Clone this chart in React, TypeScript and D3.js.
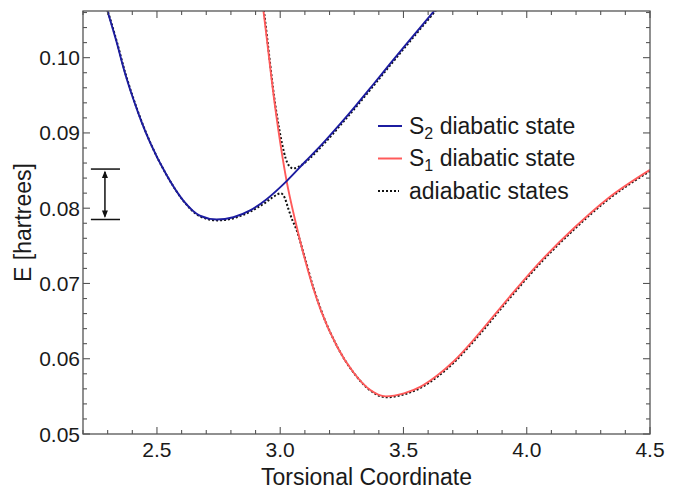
import React, { useEffect, useRef } from 'react';
import * as d3 from 'd3';

// torsional coordinate / energy (hartrees)
const s2Diabatic: [number, number][] = [
    [2.29, 0.1072], [2.336, 0.1021], [2.369, 0.0981], [2.403, 0.0946], [2.437, 0.0915],
    [2.471, 0.0888], [2.539, 0.0844], [2.607, 0.0810], [2.674, 0.0790], [2.742, 0.0785],
    [2.810, 0.0788], [2.878, 0.0797], [2.945, 0.0812], [3.026, 0.0836], [3.102, 0.0862],
    [3.170, 0.0885], [3.238, 0.0910], [3.306, 0.0936], [3.374, 0.0963], [3.441, 0.0990],
    [3.509, 0.1017], [3.583, 0.1046], [3.650, 0.1072]
];

const s1Diabatic: [number, number][] = [
    [2.925, 0.1080], [2.932, 0.1062], [2.980, 0.0933], [3.026, 0.0836], [3.062, 0.0782],
    [3.096, 0.0737], [3.130, 0.0698], [3.163, 0.0666], [3.231, 0.0616], [3.299, 0.0581],
    [3.367, 0.0558], [3.428, 0.0550], [3.502, 0.0554], [3.570, 0.0563], [3.638, 0.0578],
    [3.705, 0.0597], [3.787, 0.0626], [3.922, 0.0679], [4.058, 0.0730], [4.193, 0.0774],
    [4.329, 0.0813], [4.500, 0.0851]
];

// adiabatic states near the avoided crossing
const upperNearCrossing: [number, number][] = [
    [3.005, 0.0887], [3.020, 0.0867], [3.035, 0.0857], [3.050, 0.0854],
    [3.070, 0.0856], [3.095, 0.0861], [3.116, 0.0867]
];
const lowerNearCrossing: [number, number][] = [
    [2.905, 0.0802], [2.935, 0.0808], [2.960, 0.0814], [2.983, 0.0819], [2.999, 0.0821],
    [3.016, 0.0815], [3.030, 0.0801], [3.046, 0.0786], [3.062, 0.0774]
];

const xTickValues = [2.5, 3.0, 3.5, 4.0, 4.5];
const xTickLabels = ['2.5', '3.0', '3.5', '4.0', '4.5'];
const yTickValues = [0.05, 0.06, 0.07, 0.08, 0.09, 0.10];
const yTickLabels = ['0.05', '0.06', '0.07', '0.08', '0.09', '0.10'];

// energy gap marker: levels and position on the coordinate axis
const gapLevels = [0.0852, 0.0785];
const gapSpan = [2.232, 2.35];
const gapArrowAt = 2.289;

const legendItems = [
    { name: 'S', sub: '2', rest: ' diabatic state', color: '#1c1ca0', dash: null },
    { name: 'S', sub: '1', rest: ' diabatic state', color: '#ff5a5a', dash: null },
    { name: 'adiabatic states', sub: '', rest: '', color: '#111111', dash: '2,2' }
];

const width = 685;
const height = 489;
const margin = { top: 11, right: 35, bottom: 55, left: 83 };

function App() {
    const ref = useRef<SVGSVGElement>(null);

    useEffect(() => {
        drawChart();
    });

    function drawChart() {
        const svg = d3.select(ref.current);
        svg.selectAll('*').remove();

        const font = '"Liberation Sans", Arial, sans-serif';
        const axisColor = '#555555';
        const x = d3.scaleLinear().domain([2.2, 4.5]).range([margin.left, width - margin.right]);
        const y = d3.scaleLinear().domain([0.05, 0.1062]).range([height - margin.bottom, margin.top]);
        const [x0, x1] = x.range();
        const [y0, y1] = y.range();

        svg.append('defs')
            .append('clipPath')
            .attr('id', 'plot-clip')
            .append('rect')
            .attr('x', x0)
            .attr('y', y1)
            .attr('width', x1 - x0)
            .attr('height', y0 - y1);

        const line = d3.line<[number, number]>()
            .x(d => x(d[0]))
            .y(d => y(d[1]))
            .curve(d3.curveMonotoneX);

        const upper = [
            ...s1Diabatic.filter(d => d[0] < 2.99),
            ...upperNearCrossing,
            ...s2Diabatic.filter(d => d[0] > 3.15)
        ];
        const lower = [
            ...s2Diabatic.filter(d => d[0] < 2.89),
            ...lowerNearCrossing,
            ...s1Diabatic.filter(d => d[0] > 3.08)
        ];

        const plot = svg.append('g').attr('clip-path', 'url(#plot-clip)');

        // adiabatic (dotted) under the diabatic curves
        [upper, lower].forEach(pts => {
            plot.append('path')
                .attr('d', line(pts))
                .attr('transform', 'translate(0.6,0.9)')
                .attr('fill', 'none')
                .attr('stroke', '#111111')
                .attr('stroke-width', 2)
                .attr('stroke-dasharray', '2,2');
        });

        plot.append('path')
            .attr('d', line(s1Diabatic))
            .attr('fill', 'none')
            .attr('stroke', '#ff5a5a')
            .attr('stroke-width', 1.9);

        plot.append('path')
            .attr('d', line(s2Diabatic))
            .attr('fill', 'none')
            .attr('stroke', '#1c1ca0')
            .attr('stroke-width', 1.9);

        // frame
        svg.append('rect')
            .attr('x', x0)
            .attr('y', y1)
            .attr('width', x1 - x0)
            .attr('height', y0 - y1)
            .attr('fill', 'none')
            .attr('stroke', axisColor)
            .attr('stroke-width', 1.3);

        const ticks = svg.append('g').attr('stroke', axisColor).attr('stroke-width', 1.1);
        const xMinor = d3.range(22, 46).map(v => v / 10);
        const yMinor = d3.range(25, 54).map(v => v / 500);

        xMinor.forEach(v => {
            const len = xTickValues.some(t => Math.abs(t - v) < 1e-6) ? 7 : 4;
            ticks.append('line').attr('x1', x(v)).attr('x2', x(v)).attr('y1', y0).attr('y2', y0 - len);
            ticks.append('line').attr('x1', x(v)).attr('x2', x(v)).attr('y1', y1).attr('y2', y1 + len);
        });
        yMinor.forEach(v => {
            const len = yTickValues.some(t => Math.abs(t - v) < 1e-6) ? 7 : 4;
            ticks.append('line').attr('y1', y(v)).attr('y2', y(v)).attr('x1', x0).attr('x2', x0 + len);
            ticks.append('line').attr('y1', y(v)).attr('y2', y(v)).attr('x1', x1).attr('x2', x1 - len);
        });

        svg.append('g')
            .selectAll('text')
            .data(xTickValues)
            .enter()
            .append('text')
            .attr('x', d => x(d))
            .attr('y', y0 + 23)
            .attr('text-anchor', 'middle')
            .style('font-family', font)
            .style('font-size', '21px')
            .style('fill', '#1a1a1a')
            .text((_, i) => xTickLabels[i]);

        svg.append('g')
            .selectAll('text')
            .data(yTickValues)
            .enter()
            .append('text')
            .attr('x', x0 - 3)
            .attr('y', d => y(d) + 7.5)
            .attr('text-anchor', 'end')
            .style('font-family', font)
            .style('font-size', '21px')
            .style('fill', '#1a1a1a')
            .text((_, i) => yTickLabels[i]);

        // axis titles
        svg.append('text')
            .attr('x', (x0 + x1) / 2)
            .attr('y', 485)
            .attr('text-anchor', 'middle')
            .style('font-family', font)
            .style('font-size', '23px')
            .style('fill', '#1a1a1a')
            .text('Torsional Coordinate');

        svg.append('text')
            .attr('transform', `translate(31, ${(y0 + y1) / 2}) rotate(-90)`)
            .attr('text-anchor', 'middle')
            .style('font-family', font)
            .style('font-size', '23px')
            .style('fill', '#1a1a1a')
            .text('E [hartrees]');

        // gap marker
        const gap = svg.append('g').attr('stroke', '#111111').attr('stroke-width', 1.5);
        gapLevels.forEach(level => {
            gap.append('line')
                .attr('x1', x(gapSpan[0]))
                .attr('x2', x(gapSpan[1]))
                .attr('y1', y(level))
                .attr('y2', y(level));
        });
        const ax = x(gapArrowAt);
        const top = y(gapLevels[0]);
        const bottom = y(gapLevels[1]);
        gap.append('line').attr('x1', ax).attr('x2', ax).attr('y1', top + 3).attr('y2', bottom - 3);
        svg.append('path')
            .attr('d', `M${ax},${top + 1.5}L${ax - 3},${top + 9}L${ax + 3},${top + 9}Z`)
            .attr('fill', '#111111');
        svg.append('path')
            .attr('d', `M${ax},${bottom - 1.5}L${ax - 3},${bottom - 9}L${ax + 3},${bottom - 9}Z`)
            .attr('fill', '#111111');

        // legend
        const legend = svg.append('g');
        legendItems.forEach((item, i) => {
            const ly = 126 + i * 32.5;
            legend.append('line')
                .attr('x1', 378)
                .attr('x2', item.dash ? 399 : 402)
                .attr('y1', ly)
                .attr('y2', ly)
                .attr('stroke', item.color)
                .attr('stroke-width', 2)
                .attr('stroke-dasharray', item.dash);
            const t = legend.append('text')
                .attr('x', 409)
                .attr('y', ly + 7.5)
                .style('font-family', font)
                .style('font-size', '23px')
                .style('fill', '#1a1a1a');
            t.append('tspan').text(item.name);
            if (item.sub) {
                t.append('tspan').attr('dy', 5).style('font-size', '16px').text(item.sub);
                t.append('tspan').attr('dy', -5).text(item.rest);
            }
        });
    }

    return (
        <svg
            ref={ref}
            width={width}
            height={height}
            style={{ position: 'absolute', left: 0, top: 0, background: '#ffffff' }}
        />
    );
}

export default App;
